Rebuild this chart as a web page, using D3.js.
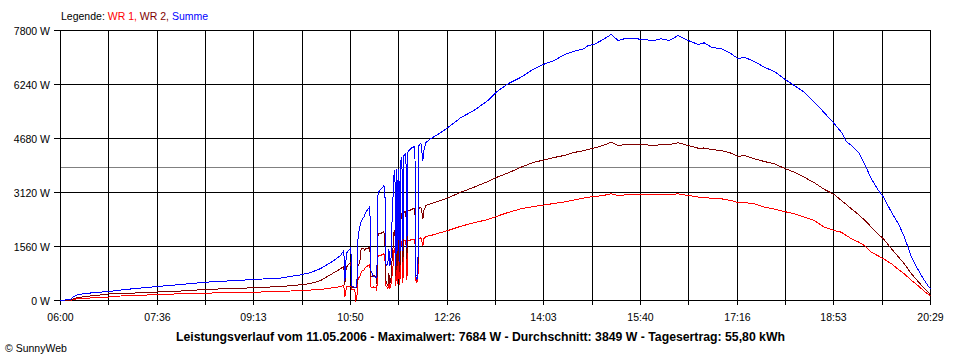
<!DOCTYPE html>
<html><head><meta charset="utf-8">
<script src="https://cdn.jsdelivr.net/npm/d3@7"></script>
<style>body{margin:0;background:#fff}svg{display:block}</style>
</head><body><svg id="c" width="960" height="360"></svg>
<script>
const times = ["06:00","06:10","06:13","06:18","06:25","06:35","06:48","07:00","07:15","07:37","08:00","08:25","08:50","09:13","09:40","10:00","10:10","10:20","10:30",
"10:40","10:41","10:42","10:43","10:44","10:45","10:46","10:47","10:48","10:49","10:50",
"10:51","10:52","10:53","10:54","10:55","10:56",
"10:57","10:58","10:59","11:00","11:01","11:02","11:03","11:04","11:05","11:06","11:07","11:08","11:09",
"11:10","11:11","11:12","11:13","11:14","11:15","11:16",
"11:17","11:18","11:19","11:20","11:21","11:22","11:23","11:24",
"11:25","11:26","11:27","11:28","11:29","11:30",
"11:31","11:32","11:33","11:34","11:35","11:36","11:37","11:38","11:39",
"11:40","11:41","11:42","11:43","11:44","11:45","11:46","11:47","11:48","11:49","11:50","11:51","11:52","11:53","11:54",
"11:55","11:56","11:57","11:58","11:59","12:00",
"12:02","12:03","12:05","12:10","12:20","12:27","12:40","12:53","13:07","13:16","13:27","13:40","13:53","14:04","14:13","14:23","14:33","14:43","14:47","14:53","15:02","15:10","15:17","15:23","15:33","15:40","15:53","16:00","16:08","16:17","16:27","16:37","16:43","16:50","17:00","17:10","17:17","17:23","17:33","17:43","17:53","18:03","18:13","18:23","18:33","18:43","18:53","19:00","19:05","19:10","19:17","19:23","19:30","19:37","19:42","19:50","19:57","20:03","20:10","20:17","20:23","20:27","20:29"];

const wr1 = [0,0,29,58,58,87,101,130,144,173,194,211,231,240,260,289,303,318,361,
400,420,430,440,90,290,400,410,410,410,410,
320,320,320,300,0,60,
580,660,690,780,840,870,870,930,960,980,1010,1010,1040,
400,370,370,400,370,370,290,
1270,1300,1300,1300,1330,1330,1360,1270,
430,400,350,490,350,430,
690,920,1440,1500,430,1530,490,1530,460,
1680,1710,520,1730,1730,1730,580,1730,1730,1730,1760,1760,1760,1760,1760,
580,520,660,1790,1790,1820,
1589,1791,1849,1878,1964,2022,2146,2245,2340,2435,2542,2649,2716,2765,2802,2846,2903,2961,2984,3004,3033,3082,3033,3048,3054,3062,3054,3062,3062,3082,3033,2990,2976,2955,2938,2889,2822,2831,2794,2695,2643,2571,2505,2406,2311,2118,2022,1973,1878,1782,1690,1589,1395,1286,1205,1060,896,766,578,419,260,173,116];

const wr2 = [0,0,58,87,116,144,188,202,217,246,274,318,347,367,404,454,491,578,751,
920,950,960,990,460,850,980,1010,1050,1080,1110,
380,380,375,370,360,370,
1010,1040,1100,1440,1500,1500,1500,1440,1500,1500,1500,1530,1530,
690,690,690,720,720,690,490,
1850,1930,1940,1940,1960,1960,1990,1730,
580,490,430,780,490,580,
1100,1440,1960,2020,720,2020,1010,2050,810,
2490,2510,1100,2540,2570,2570,1210,2600,2600,2600,2630,2630,2660,2660,2660,
720,720,870,2660,2690,2690,
2369,2600,2744,2802,2889,2967,3129,3273,3438,3562,3683,3851,3995,4065,4131,4189,4276,4333,4362,4406,4478,4573,4478,4498,4507,4507,4478,4507,4507,4556,4478,4400,4406,4362,4333,4255,4160,4189,4094,4016,3949,3822,3706,3562,3400,3207,3062,2889,2773,2649,2484,2326,2118,1907,1782,1494,1257,1054,771,534,347,231,144];

const summe = [0,29,116,173,202,231,260,303,347,404,462,529,569,607,650,742,809,924,1098,
1300,1360,1390,1440,550,1130,1380,1420,1460,1490,1520,
420,400,390,380,380,400,
1730,1970,2140,2250,2310,2370,2400,2480,2540,2600,2630,2660,2720,
870,810,720,690,690,660,690,
3030,3150,3180,3210,3240,3270,3320,3290,
1070,1010,1070,1500,1010,1100,
2170,2890,3610,3760,1010,3810,1440,3810,1100,
4040,4130,1440,4190,4220,4250,1530,4280,4330,4360,4390,4420,4420,4450,4450,
700,600,870,4480,4510,4540,
4044,4333,4564,4680,4853,4998,5287,5489,5778,6038,6260,6451,6694,6838,6933,7098,7202,7271,7367,7396,7540,7684,7511,7560,7578,7540,7511,7560,7511,7656,7511,7396,7445,7318,7271,7127,6982,7029,6904,6740,6616,6405,6211,6018,5729,5422,5105,4862,4593,4478,4284,3949,3516,3178,2984,2551,2216,1829,1251,867,578,404,338];

const yTicks = [0,1560,3120,4680,6240,7800];
const xTickLabels = ["06:00","07:36","09:13","10:50","12:26","14:03","15:40","17:16","18:53","20:29"];
const average = 3849;
const legendLabels = ["WR 1,","WR 2,","Summe"];
const titleText = "Leistungsverlauf vom 11.05.2006 - Maximalwert: 7684 W - Durchschnitt: 3849 W - Tagesertrag: 55,80 kWh";

if (wr1.length!==times.length||wr2.length!==times.length||summe.length!==times.length) console.error("length mismatch", times.length, wr1.length, wr2.length, summe.length);

const toMin = s => { const [h,m] = s.split(":").map(Number); return h*60+m-360; };
const endMin = toMin(xTickLabels[xTickLabels.length-1]);
const x = d3.scaleLinear().domain([0, endMin]).range([60.5, 930.5]);
const y = d3.scaleLinear().domain([0, 7800]).range([300.5, 30.5]);
const svg = d3.select("#c");
const font = "'Liberation Sans', Arial, sans-serif";
const crisp = v => Math.round(v - 0.5) + 0.5;

// horizontal grid + y ticks
svg.append("g").selectAll("line").data(yTicks).join("line")
  .attr("x1", 54).attr("x2", 930.5)
  .attr("y1", d => crisp(y(d))).attr("y2", d => crisp(y(d)))
  .attr("stroke", "#000").attr("shape-rendering", "crispEdges");
svg.append("g").selectAll("text").data(yTicks).join("text")
  .attr("x", 50).attr("y", d => y(d) + 4)
  .attr("text-anchor", "end").attr("font-family", font).attr("font-size", "10.5px")
  .text(d => d + " W");

// average line
svg.append("line").attr("x1", 60.5).attr("x2", 930.5)
  .attr("y1", crisp(y(average))).attr("y2", crisp(y(average)))
  .attr("stroke", "#808080").attr("shape-rendering", "crispEdges");

// vertical grid: 18 intervals, labels on every second
const nDiv = (xTickLabels.length - 1) * 2;
const vGrid = d3.range(nDiv + 1).map(i => i * endMin / nDiv);
svg.append("g").selectAll("line").data(vGrid).join("line")
  .attr("x1", d => crisp(x(d))).attr("x2", d => crisp(x(d)))
  .attr("y1", 30).attr("y2", 305)
  .attr("stroke", "#000").attr("shape-rendering", "crispEdges");
svg.append("g").selectAll("text").data(xTickLabels).join("text")
  .attr("x", (d, i) => crisp(x(vGrid[i*2])))
  .attr("y", 321).attr("text-anchor", "middle")
  .attr("font-family", font).attr("font-size", "10.5px")
  .text(d => d);

// series
const series = [
  {values: wr1, color: "#ff0000"},
  {values: wr2, color: "#800000"},
  {values: summe, color: "#0000ff"}
];
const line = d3.line().x(d => x(d[0])).y(d => y(d[1]));
const tm = times.map(toMin);
svg.append("g").selectAll("path").data(series).join("path")
  .attr("d", s => line(tm.map((t, i) => [t, s.values[i]])))
  .attr("fill", "none").attr("stroke", s => s.color).attr("stroke-width", 1)
  .attr("shape-rendering", "crispEdges");

// legend
const lg = svg.append("text").attr("x", 61).attr("y", 20)
  .attr("font-family", font).attr("font-size", "10.5px");
lg.append("tspan").attr("fill", "#000").text("Legende: ");
lg.selectAll("tspan.s").data(legendLabels).join("tspan").attr("class", "s")
  .attr("fill", (d, i) => series[i].color)
  .text((d, i) => (i ? " " : "") + d);

// title
svg.append("text").attr("x", 480.5).attr("y", 341).attr("text-anchor", "middle")
  .attr("font-family", "'Liberation Sans Narrow', 'Liberation Sans', Arial, sans-serif")
  .attr("font-weight", "bold").attr("font-size", "12.5px")
  .attr("textLength", 609).attr("lengthAdjust", "spacingAndGlyphs")
  .text(titleText);

// copyright
svg.append("text").attr("x", 5).attr("y", 352)
  .attr("font-family", font).attr("font-size", "10.5px")
  .text("© SunnyWeb");
</script>
</body></html>
